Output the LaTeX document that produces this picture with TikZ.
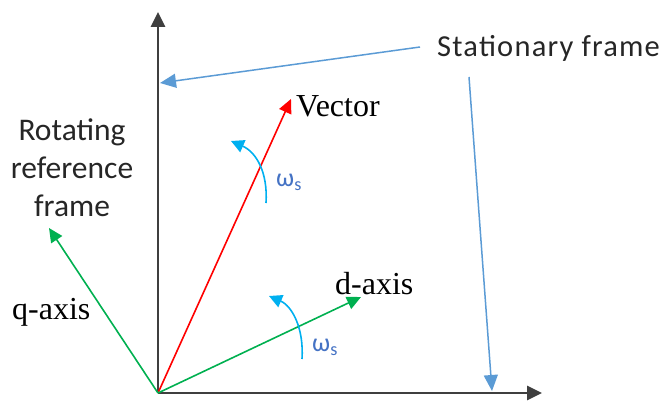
\documentclass[tikz,border=0pt]{standalone}
\usepackage{fontspec}
\setmainfont{Liberation Serif}
\newfontfamily\calib{Carlito}
\newfontfamily\calibwide[LetterSpace=4]{Carlito}
\usetikzlibrary{arrows.meta}
\definecolor{axgray}{HTML}{3F3F3F}
\definecolor{callout}{HTML}{5B9BD5}
\definecolor{vgreen}{HTML}{00B050}
\definecolor{vred}{HTML}{FF0000}
\definecolor{omcyan}{HTML}{00B0F0}
\definecolor{omtext}{HTML}{4472C4}
\tikzset{
  axis/.style={draw=axgray, line width=2.6pt, -{Triangle[length=15pt,width=14pt]}},
  vec/.style={line width=1.6pt, -{Triangle[length=14pt,width=13pt]}},
  calloutarrow/.style={draw=callout, line width=1.5pt, -{Triangle[length=16pt,width=14pt]}},
  omarc/.style={draw=omcyan, line width=1.6pt, -{Triangle[length=13pt,width=13pt]}},
  sanslabel/.style={font=\calib\fontsize{31.5}{38}\selectfont, text=black!85, inner sep=0pt, align=center},
  seriflabel/.style={font=\fontsize{32}{38}\selectfont, text=black, inner sep=0pt},
  omlabel/.style={font=\calib\fontsize{26}{30}\selectfont, text=omtext, inner sep=0pt}
}
\begin{document}
\begin{tikzpicture}[x=1pt,y=-1pt]
\useasboundingbox (0,0) rectangle (664,401);
\coordinate (O) at (158,393);
\coordinate (ytip) at (158,12);
\coordinate (xtip) at (542,393);
\coordinate (vtip) at (291,99);
\coordinate (dtip) at (361,297);
\coordinate (qtip) at (49,228);
\coordinate (yhit) at (160,83);
\coordinate (xhit) at (492,391);
\coordinate (c1s) at (420,47);
\coordinate (c2s) at (469,77);
\coordinate (w1s) at (266,203);
\coordinate (w1e) at (231,141);
\coordinate (w2s) at (302,359);
\coordinate (w2e) at (269,296);

\draw[axis] (O) -- (ytip);
\draw[axis] (O) -- (xtip);
\draw[vec, color=vred] (O) -- (vtip);
\draw[vec, color=vgreen] (O) -- (dtip);
\draw[vec, color=vgreen] (O) -- (qtip);

\node[sanslabel, font=\calibwide\fontsize{30.5}{38}\selectfont, anchor=west] (stat) at (437,48) {Stationary frame};
\draw[calloutarrow, color=callout] (c1s) -- (yhit);
\draw[calloutarrow, color=callout] (c2s) -- (xhit);

\node[seriflabel, anchor=west] (vlab) at (296,106) {Vector};
\node[seriflabel, anchor=west] (dlab) at (335,284) {d-axis};
\node[seriflabel, anchor=west] (qlab) at (12,312) {q-axis};
\node[sanslabel] (rot) at (72,168) {Rotating\\reference\\frame};

\draw[omarc, color=omcyan] (w1s) .. controls (268,172) and (256,152) .. (w1e);
\draw[omarc, color=omcyan] (w2s) .. controls (304,328) and (292,306) .. (w2e);
\node[omlabel, anchor=west] (om1) at (276,182) {ω\textsubscript{s}};
\node[omlabel, anchor=west] (om2) at (312,347) {ω\textsubscript{s}};
\end{tikzpicture}
\end{document}
